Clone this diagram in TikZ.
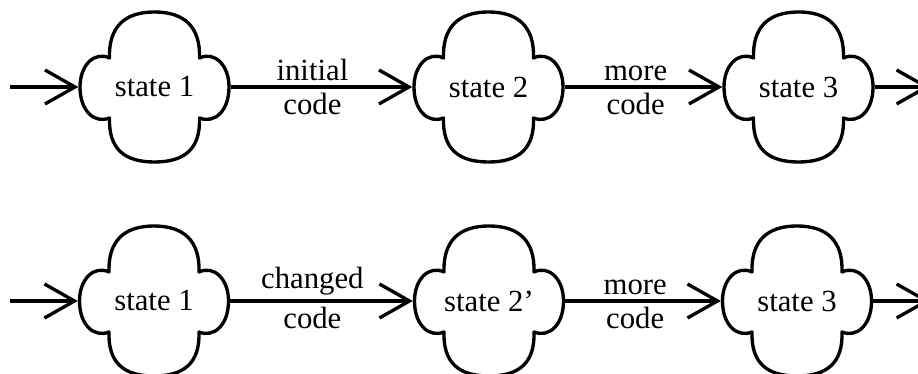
\documentclass[tikz,border=0pt]{standalone}
\usepackage{fontspec}
\setmainfont{Liberation Serif}
\usetikzlibrary{arrows.meta,positioning}

\begin{document}
\begin{tikzpicture}[x=0.02cm,y=0.02cm,line width=1.9pt,
    font=\fontsize{17.5}{21}\selectfont,
    st/.style={minimum width=2.98cm,minimum height=2.96cm,inner sep=0pt},
    lobes/.pic={
      \draw[line join=round] (-45,29) .. controls (-46,60) and (-30,75) .. (0,75)
        .. controls (30,75) and (46,60) .. (45,29)
        .. controls (60,36) and (74.5,22) .. (74.5,0)
        .. controls (74.5,-24) and (60,-37) .. (45,-31)
        .. controls (46,-62) and (30,-75) .. (0,-75)
        .. controls (-30,-75) and (-46,-62) .. (-45,-31)
        .. controls (-60,-37) and (-74.5,-24) .. (-74.5,0)
        .. controls (-74.5,22) and (-60,36) .. (-45,29) -- cycle;},
    arr/.style={-{Straight Barb[length=0.6cm,width=0.68cm]}},
    lab/.style={pos=0.45,inner sep=2.5pt}]
  \useasboundingbox (0,0) rectangle (918,374);
  % first run
  \node[st] (a1) at (154.5,287) {state 1};
  \node[st] (a2) at (488.5,287) {state 2};
  \node[st] (a3) at (798.5,287) {state 3};
  % second run, after the change
  \node[st] (b1) at (154,73) {state 1};
  \node[st] (b2) at (489,73) {state 2'};
  \node[st] (b3) at (797,73) {state 3};
  \foreach \n in {a1,a2,a3,b1,b2,b3}
    \pic at (\n) {lobes};
  \coordinate (ain) at (10,287);
  \coordinate (aout) at (930,287);
  \coordinate (bin) at (10,73);
  \coordinate (bout) at (930,73);
  \draw[arr] (ain) -- (a1);
  \draw[arr] (a1) -- node[lab,above] {initial} node[lab,below] {code} (a2);
  \draw[arr] (a2) -- node[lab,above] {more} node[lab,below] {code} (a3);
  \draw[arr] (a3) -- (aout);
  \draw[arr] (bin) -- (b1);
  \draw[arr] (b1) -- node[lab,above] {changed} node[lab,below] {code} (b2);
  \draw[arr] (b2) -- node[lab,above] {more} node[lab,below] {code} (b3);
  \draw[arr] (b3) -- (bout);
\end{tikzpicture}
\end{document}
